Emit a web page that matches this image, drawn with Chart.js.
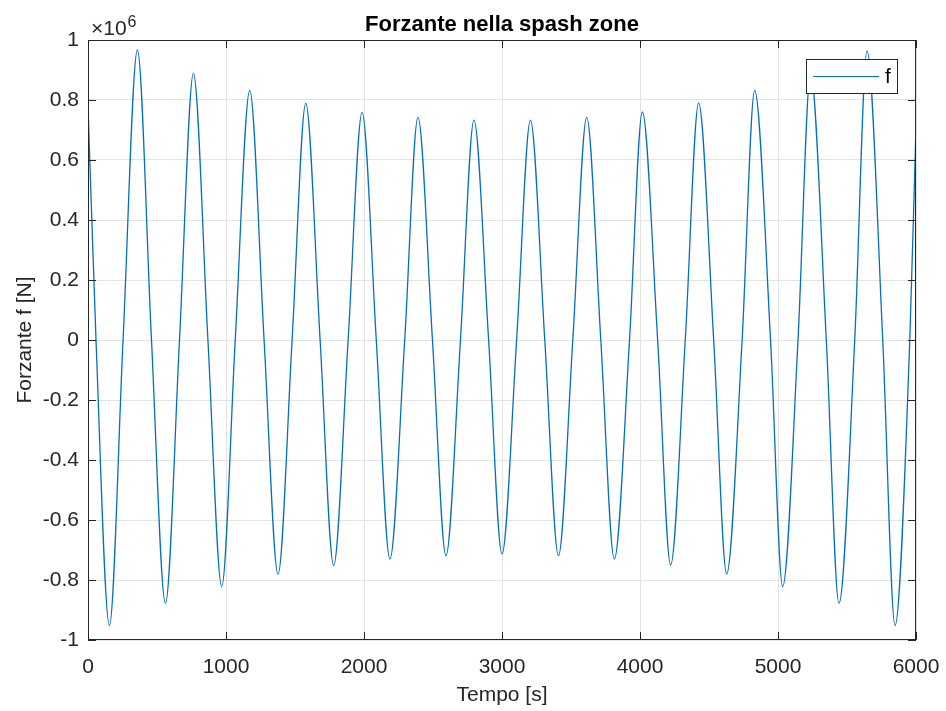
<!DOCTYPE html>
<html>
<head>
<meta charset="utf-8">
<title>Forzante nella spash zone</title>
<script src="https://cdn.jsdelivr.net/npm/chart.js@4.4.0/dist/chart.umd.min.js"></script>
<style>
  html, body { margin: 0; padding: 0; background: #fff; }
  canvas { display: block; }
</style>
</head>
<body>
<canvas id="chartForzante" width="946" height="711"></canvas>
<script>
// tempo [s]: massimi, minimi e passaggi per lo zero
const tempo = [
  0, 58, 155, 254, 358, 460, 561, 663, 764, 869,
  969, 1067, 1172, 1276, 1377, 1479, 1578, 1682, 1780, 1885,
  1986, 2089, 2188, 2295, 2391, 2496, 2594, 2699, 2797, 2903,
  3000, 3106, 3206, 3310, 3409, 3513, 3614, 3716, 3814, 3924,
  4017, 4128, 4222, 4328, 4425, 4534, 4628, 4740, 4831, 4946,
  5034, 5145, 5236, 5350, 5442, 5556, 5645, 5759, 5848, 5955,
  6000,
];
// forzante f [N]
const forzante = [
  780000, 0, -952000, 0, 967000, 0, -878000, 0, 889000, 0,
  -822000, 0, 832000, 0, -781000, 0, 789000, 0, -752000, 0,
  759000, 0, -730000, 0, 742000, 0, -719000, 0, 733000, 0,
  -713000, 0, 733000, 0, -719000, 0, 742000, 0, -730000, 0,
  760000, 0, -750000, 0, 790000, 0, -780000, 0, 832000, 0,
  -822000, 0, 889000, 0, -878000, 0, 964000, 0, -952000, 0,
  711000,
];
const xTicks = [0, 1000, 2000, 3000, 4000, 5000, 6000];
const yTicks = [
  -1000000, -800000, -600000, -400000, -200000, 0,
  200000, 400000, 600000, 800000, 1000000,
];

const FONT = "'Liberation Sans', Arial, sans-serif";
const AXIS = "#262626";
const BLU = "#0072BD";

// assi stile matlab: riquadro, tacche verso l'interno, x10^6 e legenda
const matlabAxes = {
  id: "matlabAxes",
  afterDraw(chart) {
    const { ctx, chartArea: a, scales } = chart;
    const tl = 8;
    ctx.save();
    ctx.strokeStyle = AXIS;
    ctx.lineWidth = 1;
    ctx.beginPath();
    xTicks.forEach((v) => {
      const px = Math.round(scales.x.getPixelForValue(v)) + 0.5;
      ctx.moveTo(px, a.bottom);
      ctx.lineTo(px, a.bottom - tl);
      ctx.moveTo(px, a.top);
      ctx.lineTo(px, a.top + tl);
    });
    yTicks.forEach((v) => {
      const py = Math.round(scales.y.getPixelForValue(v)) + 0.5;
      ctx.moveTo(a.left, py);
      ctx.lineTo(a.left + tl, py);
      ctx.moveTo(a.right, py);
      ctx.lineTo(a.right - tl, py);
    });
    ctx.stroke();
    ctx.strokeRect(a.left + 0.5, a.top + 0.5, a.right - a.left - 1, a.bottom - a.top - 1);

    // moltiplicatore
    ctx.fillStyle = AXIS;
    ctx.textBaseline = "alphabetic";
    ctx.textAlign = "left";
    ctx.font = `21px ${FONT}`;
    ctx.fillText("\u00d710", a.left + 3, a.top - 5);
    const w = ctx.measureText("\u00d710").width;
    ctx.font = `16px ${FONT}`;
    ctx.fillText("6", a.left + 3 + w + 1, a.top - 13);

    // legenda
    const lx = a.right - 110, ly = a.top + 19, lw = 91, lh = 34;
    ctx.fillStyle = "#fff";
    ctx.fillRect(lx, ly, lw, lh);
    ctx.strokeStyle = AXIS;
    ctx.strokeRect(lx + 0.5, ly + 0.5, lw, lh);
    const ds = chart.data.datasets[0];
    ctx.strokeStyle = ds.borderColor;
    ctx.lineWidth = 1.2;
    ctx.beginPath();
    ctx.moveTo(lx + 7, ly + 17.5);
    ctx.lineTo(lx + 73, ly + 17.5);
    ctx.stroke();
    ctx.fillStyle = "#000";
    ctx.font = `21px ${FONT}`;
    ctx.textBaseline = "middle";
    ctx.fillText(ds.label, lx + 79, ly + 18);
    ctx.restore();
  },
};

new Chart(document.getElementById("chartForzante"), {
  type: "line",
  data: {
    datasets: [
      {
        label: "f",
        data: tempo.map((t, i) => ({ x: t, y: forzante[i] })),
        borderColor: BLU,
        borderWidth: 1.3,
        pointRadius: 0,
        cubicInterpolationMode: "monotone",
        fill: false,
      },
    ],
  },
  options: {
    responsive: false,
    animation: false,
    layout: { padding: { left: 0, right: 30, top: 0, bottom: 0 } },
    plugins: {
      legend: { display: false },
      tooltip: { enabled: false },
      title: {
        display: true,
        fullSize: false,
        text: "Forzante nella spash zone",
        color: "#000",
        font: { family: FONT, size: 22, weight: "bold", lineHeight: "26px" },
        padding: { top: 12, bottom: 2 },
      },
    },
    scales: {
      x: {
        type: "linear",
        min: 0,
        max: 6000,
        afterBuildTicks: (s) => { s.ticks = xTicks.map((v) => ({ value: v })); },
        afterFit: (s) => { s.height = 71; s.paddingLeft = 0; s.paddingRight = 0; },
        grid: { color: "#e3e3e3", drawTicks: false },
        border: { display: false },
        ticks: {
          color: AXIS,
          padding: 15,
          maxRotation: 0,
          font: { family: FONT, size: 21 },
          callback: (v) => String(v),
        },
        title: {
          display: true,
          text: "Tempo [s]",
          color: AXIS,
          font: { family: FONT, size: 21, lineHeight: "25px" },
          padding: { top: 0, bottom: 3 },
        },
      },
      y: {
        min: -1000000,
        max: 1000000,
        afterBuildTicks: (s) => { s.ticks = yTicks.map((v) => ({ value: v })); },
        afterFit: (s) => { s.width = 88; s.paddingTop = 0; s.paddingBottom = 0; },
        grid: { color: "#e3e3e3", drawTicks: false },
        border: { display: false },
        ticks: {
          color: AXIS,
          padding: 9,
          font: { family: FONT, size: 21 },
          callback: (v) => String(v / 1e6),
        },
        title: {
          display: true,
          text: "Forzante f [N]",
          color: AXIS,
          font: { family: FONT, size: 21, lineHeight: "25px" },
          padding: { top: 13, bottom: 0 },
        },
      },
    },
  },
  plugins: [matlabAxes],
});
</script>
</body>
</html>
